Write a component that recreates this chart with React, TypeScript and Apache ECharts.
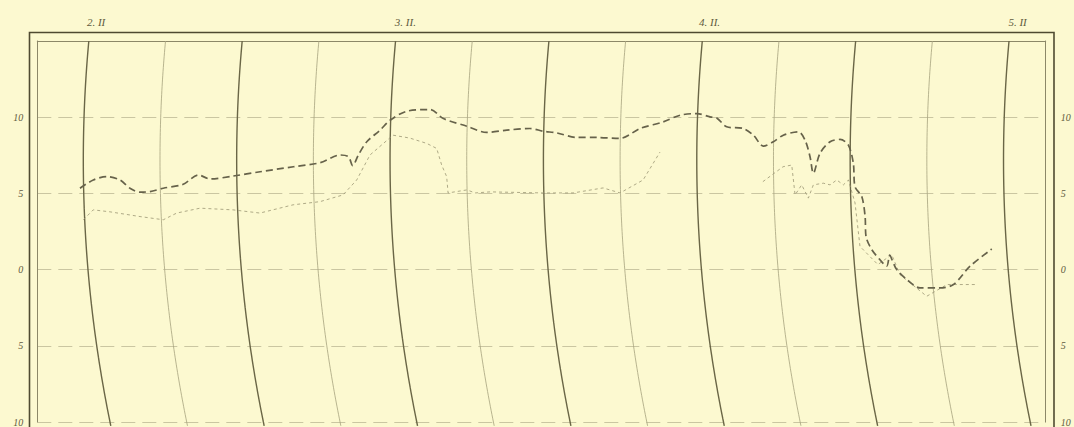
import React, { useEffect, useRef } from "react";
import * as echarts from "echarts";

// Day labels along the top (hour positions from the start of 2. II)
const dayLabels = ["2. II", "3. II.", "4. II.", "5. II"];
const dayLabelHours = [1.0, 25.2, 49.0, 73.1];

// Recorder hour arcs every 6 hours (heavy every 12 hours)
const hourLines = [0, 6, 12, 18, 24, 30, 36, 42, 48, 54, 60, 66, 72];

// Heavy dashed trace
const dashedHours = [
  -0.26, 0.78, 1.83, 2.87, 3.65, 4.44, 5.22, 6.26, 7.82, 9.0, 9.91, 11.74, 13.83, 16.43,
  18.52, 20.09, 20.74, 21.08, 21.52, 22.18, 23.22, 24.0, 25.31, 27.13, 28.17, 30.0, 31.56,
  33.13, 34.95, 35.99, 37.04, 38.61, 40.17, 42.0, 43.56, 45.38, 46.69, 48.0, 49.04, 49.56,
  50.34, 51.64, 52.43, 53.21, 53.99, 54.77, 55.95, 56.47, 56.86, 57.12, 57.64, 58.43, 59.21,
  59.86, 60.25, 60.38, 60.91, 61.17, 61.24, 61.69, 62.33, 62.86, 63.1, 63.3, 63.64, 64.43,
  65.47, 67.03, 68.08, 69.38, 71.08,
];
const dashedTemps = [
  5.34, 5.88, 6.1, 5.88, 5.34, 5.08, 5.12, 5.34, 5.6, 6.21, 5.95, 6.14, 6.42, 6.75,
  7.01, 7.52, 7.41, 6.82, 7.52, 8.39, 9.15, 9.8, 10.39, 10.5, 9.91, 9.41, 9.0,
  9.15, 9.26, 9.08, 8.97, 8.67, 8.67, 8.61, 9.26, 9.69, 10.13, 10.24, 10.02, 9.95,
  9.37, 9.26, 8.82, 8.1, 8.39, 8.82, 9.04, 8.5, 7.41, 6.32, 7.63, 8.39, 8.54,
  8.17, 6.97, 5.44, 4.79, 3.48, 2.18, 1.31, 0.65, 0.22, 0.95, 0.6, 0.0, -0.65,
  -1.2, -1.2, -0.98, 0.22, 1.35,
];

// Thin trace (null = no visible trace)
const thinHours = [
  0.0, 0.78, 2.09, 4.44, 6.26, 7.31, 9.13, 11.71, 13.82, 16.41, 18.52, 20.32, 21.39, 22.43,
  24.23, 25.55, 26.87, 27.65, 28.04, 28.43, 28.54, 30.02, 30.65, 31.83, 35.97, 38.32, 40.67,
  42.0, 43.8, 45.12, 49.0, 53.17, 54.75, 55.43, 55.69, 56.21, 56.73, 57.12, 57.9, 58.43,
  58.95, 59.47, 59.86, 60.38, 60.77, 62.17, 63.25, 63.9, 65.99, 67.58, 69.93,
];
const thinTemps = [
  3.27, 3.92, 3.79, 3.48, 3.27, 3.71, 4.03, 3.92, 3.71, 4.25, 4.46, 4.9, 5.88, 7.52,
  8.82, 8.63, 8.28, 7.95, 6.86, 6.1, 5.03, 5.23, 5.03, 5.1, 5.03, 5.03, 5.36,
  5.03, 5.88, 7.71, null, 5.77, 6.75, 6.86, 4.9, 5.56, 4.69, 5.56, 5.67, 5.56,
  5.88, 5.56, 5.88, 4.38, 1.52, 0.33, 0.98, -0.33, -1.75, -0.98, -0.98,
];

const BG = "#fcf9d0";
const INK = "#5f5b3e";
const LABEL_FONT = "'Liberation Serif', 'DejaVu Serif', serif";

function arcPoints(h: number) {
  const pts: number[][] = [];
  for (let v = 15; v >= -10.3; v -= 0.25) {
    pts.push([h + 0.00707 * (v - 7.19) * (v - 7.19), v]);
  }
  return pts;
}

export default function App() {
  const ref = useRef<HTMLDivElement>(null);
  useEffect(() => {
    if (!ref.current) return;
    const chart = echarts.init(ref.current, undefined, { renderer: "svg" });

    const arcSeries = hourLines.map((h) => {
      const heavy = h % 12 === 0;
      return {
        type: "line",
        data: arcPoints(h),
        showSymbol: false,
        silent: true,
        clip: false,
        z: 1,
        lineStyle: { color: heavy ? "#6a6646" : "#a6a27e", width: heavy ? 1.4 : 0.8 },
      };
    });

    const yLabel = (v: number) => (v > 10 ? "" : String(Math.abs(v)));

    chart.setOption({
      animation: false,
      backgroundColor: BG,
      grid: { left: 37.3, right: 28.3, top: 41, bottom: 4 },
      xAxis: {
        type: "value",
        position: "top",
        min: -3.6,
        max: 75.3,
        axisLine: { show: true, onZero: false, lineStyle: { color: "#8c8868", width: 1 } },
        axisTick: { show: false },
        splitLine: { show: false },
        axisLabel: {
          customValues: dayLabelHours,
          margin: 14,
          fontFamily: LABEL_FONT,
          fontStyle: "italic",
          fontSize: 11,
          color: INK,
          formatter: (v: number) => {
            const i = dayLabelHours.findIndex((d) => Math.abs(d - v) < 0.01);
            return i >= 0 ? dayLabels[i] : "";
          },
        },
      },
      yAxis: [
        {
          type: "value",
          position: "left",
          min: -10,
          max: 15,
          interval: 5,
          axisLine: { show: true, onZero: false, lineStyle: { color: "#8c8868", width: 1 } },
          axisTick: { show: false },
          splitLine: {
            show: true,
            lineStyle: { color: "#bdb994", width: 0.8, type: [14, 7] },
          },
          axisLabel: {
            margin: 14,
            fontFamily: LABEL_FONT,
            fontStyle: "italic",
            fontSize: 10,
            color: INK,
            formatter: yLabel,
          },
        },
        {
          type: "value",
          position: "right",
          min: -10,
          max: 15,
          interval: 5,
          axisLine: { show: true, onZero: false, lineStyle: { color: "#8c8868", width: 1 } },
          axisTick: { show: false },
          splitLine: { show: false },
          axisLabel: {
            margin: 15,
            fontFamily: LABEL_FONT,
            fontStyle: "italic",
            fontSize: 10,
            color: INK,
            formatter: yLabel,
          },
        },
      ],
      graphic: [
        {
          type: "polyline",
          silent: true,
          shape: { points: [[29.5, 427], [29.5, 32.5], [1054, 32.5], [1054, 427]] },
          style: { stroke: "#4f4b31", lineWidth: 1.6, fill: null },
          z: 10,
        },
      ],
      series: [
        ...arcSeries,
        {
          type: "line",
          data: thinHours.map((h, i) => [h, thinTemps[i] === null ? "-" : thinTemps[i]]),
          showSymbol: false,
          silent: true,
          connectNulls: false,
          z: 3,
          lineStyle: { color: "#9a9674", width: 0.8, type: [3, 3] },
        },
        {
          type: "line",
          data: dashedHours.map((h, i) => [h, dashedTemps[i]]),
          showSymbol: false,
          silent: true,
          smooth: 0.3,
          z: 4,
          lineStyle: { color: "#66624a", width: 1.7, type: [7, 4] },
        },
      ],
    });
    return () => chart.dispose();
  }, []);
  return (
    <div
      ref={ref}
      style={{ position: "fixed", left: 0, top: 0, width: 1074, height: 427 }}
    />
  );
}
